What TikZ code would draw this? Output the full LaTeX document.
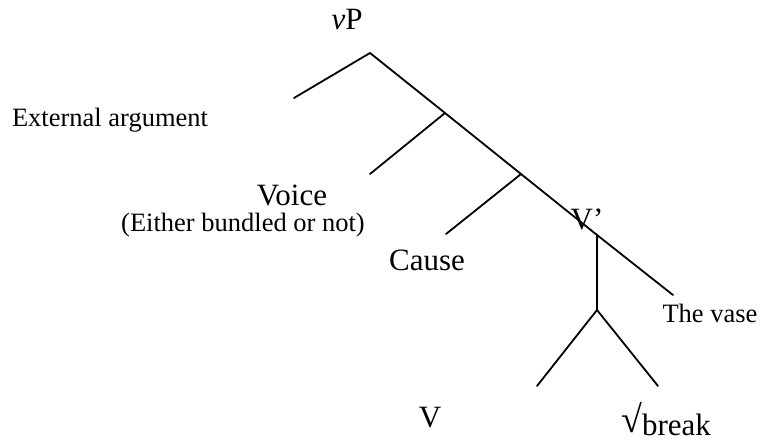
\documentclass[tikz,border=0pt]{standalone}
\usepackage{fontspec}
\setmainfont{Liberation Serif}
\usetikzlibrary{positioning}

\begin{document}
\begin{tikzpicture}[x=1pt, y=-1pt,
    branch/.style={line width=1.8pt, line cap=round},
    biglab/.style={font=\fontsize{31}{33}\selectfont, inner sep=0pt, anchor=base},
    smalllab/.style={font=\fontsize{26.5}{28}\selectfont, inner sep=0pt, anchor=base}]
  \useasboundingbox (0,0) rectangle (761,444);

  % Knoten des Baums
  \coordinate (vp) at (370,53);
  \coordinate (extend) at (294,98);
  \coordinate (voicebar) at (445,113);
  \coordinate (voiceend) at (370,174);
  \coordinate (causebar) at (521,174);
  \coordinate (causeend) at (446,234);
  \coordinate (vbar) at (597,235);
  \coordinate (vaseend) at (673,295);
  \coordinate (vlow) at (597,310);
  \coordinate (vend) at (537,386);
  \coordinate (rootend) at (658,386);

  % Aeste
  \draw[branch] (extend) -- (vp) -- (voicebar) -- (causebar) -- (vbar) -- (vaseend);
  \draw[branch] (voicebar) -- (voiceend);
  \draw[branch] (causebar) -- (causeend);
  \draw[branch] (vbar) -- (vlow);
  \draw[branch] (vend) -- (vlow) -- (rootend);

  % Beschriftungen
  \node[biglab] (vplab) at (347,30) {\textit{v}P};
  \node[smalllab] (extlab) at (110,127) {External argument};
  \node[biglab] (voicelab) at (292,205) {Voice};
  \node[smalllab] (bundlelab) at (243,231) {(Either bundled or not)};
  \node[biglab] (causelab) at (427,270) {Cause};
  \node[biglab] (vbarlab) at (587,229) {V’};
  \node[smalllab] (vaselab) at (710,322) {The vase};
  \node[biglab] (vlab) at (430,427) {V};
  \node[biglab] (rootlab) at (666,435) {\raisebox{3pt}{\fontsize{38}{40}\selectfont √}break};
\end{tikzpicture}
\end{document}
